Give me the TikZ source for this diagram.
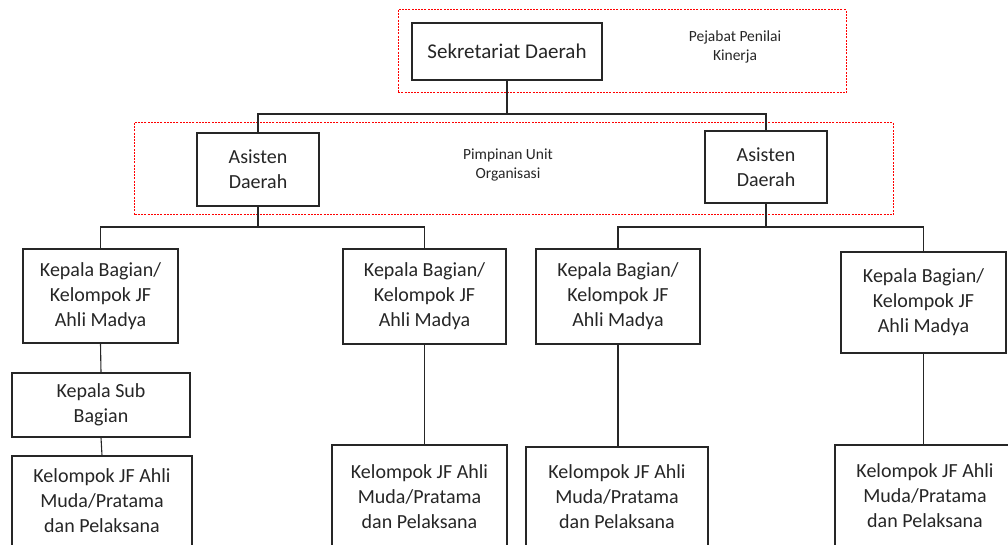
\documentclass[tikz,border=0pt]{standalone}
\usepackage{fontspec}
\setmainfont{Carlito}
\begin{document}
\begin{tikzpicture}[x=1pt,y=-1pt,
  box/.style={draw=black!85,line width=1.1pt,fill=white,align=center,inner sep=0pt,
    font=\fontsize{20}{25}\selectfont,text=black!85},
  grp/.style={draw=red,dashed,dash pattern=on 2pt off 1.2pt,line width=1pt},
  lbl/.style={align=center,font=\fontsize{15.5}{19}\selectfont,text=black!85},
  con/.style={draw=black!85,line width=1.1pt}]
\useasboundingbox (0,0) rectangle (1008,545);
\clip (0,0) rectangle (1008,545);
% group frames
\draw[grp] (398,10) rectangle (846,93);
\draw[grp] (134,123) rectangle (893,215);
\node[lbl] (l1) at (735,47) {Pejabat Penilai\\Kinerja};
\node[lbl] (l2) at (508,165) {Pimpinan Unit\\Organisasi};
% nodes
\node[box,minimum width=190pt,minimum height=57pt,font=\fontsize{21}{25}\selectfont] (sek) at (507,51.5) {Sekretariat Daerah};
\node[box,minimum width=122pt,minimum height=73pt] (asL) at (258,169.5) {Asisten\\Daerah};
\node[box,minimum width=122pt,minimum height=72pt] (asR) at (766,167) {Asisten\\Daerah};
\node[box,minimum width=155pt,minimum height=94pt] (kb1) at (100.5,296) {Kepala Bagian/\\Kelompok JF\\Ahli Madya};
\node[box,minimum width=163pt,minimum height=95pt] (kb2) at (424.5,296.5) {Kepala Bagian/\\Kelompok JF\\Ahli Madya};
\node[box,minimum width=164pt,minimum height=95pt] (kb3) at (618,296.5) {Kepala Bagian/\\Kelompok JF\\Ahli Madya};
\node[box,minimum width=165pt,minimum height=101pt] (kb4) at (923.5,302.5) {Kepala Bagian/\\Kelompok JF\\Ahli Madya};
\node[box,minimum width=178pt,minimum height=64pt] (ksb) at (101,405) {Kepala Sub\\Bagian};
\node[box,minimum width=180pt,minimum height=90pt] (kel1) at (102,501) {Kelompok JF Ahli\\Muda/Pratama\\dan Pelaksana};
\node[box,minimum width=175pt,minimum height=104pt] (kel2) at (419.5,497) {Kelompok JF Ahli\\Muda/Pratama\\dan Pelaksana};
\node[box,minimum width=182pt,minimum height=100pt] (kel3) at (617,497) {Kelompok JF Ahli\\Muda/Pratama\\dan Pelaksana};
\node[box,minimum width=180pt,minimum height=102pt] (kel4) at (925,496) {Kelompok JF Ahli\\Muda/Pratama\\dan Pelaksana};
% junction points
\coordinate (j0) at (507,114);
\coordinate (jL) at (258,227);
\coordinate (jR) at (766,227);
% connectors
\draw[con] (sek.south) -- (j0);
\draw[con] (asL.north) |- (j0) -| (asR.north);
\draw[con] (asL.south) -- (jL);
\draw[con] (kb1.north) |- (jL) -| (kb2.north);
\draw[con] (asR.south) -- (jR);
\draw[con] (kb3.north) |- (jR) -| (kb4.north);
\draw[con] (kb1.south) -- (ksb.north);
\draw[con] (ksb.south) -- (kel1.north);
\draw[con] (kb2.south) -- (kb2.south |- kel2.north);
\draw[con] (kb3.south) -- (kb3.south |- kel3.north);
\draw[con] (kb4.south) -- (kb4.south |- kel4.north);
\end{tikzpicture}
\end{document}
